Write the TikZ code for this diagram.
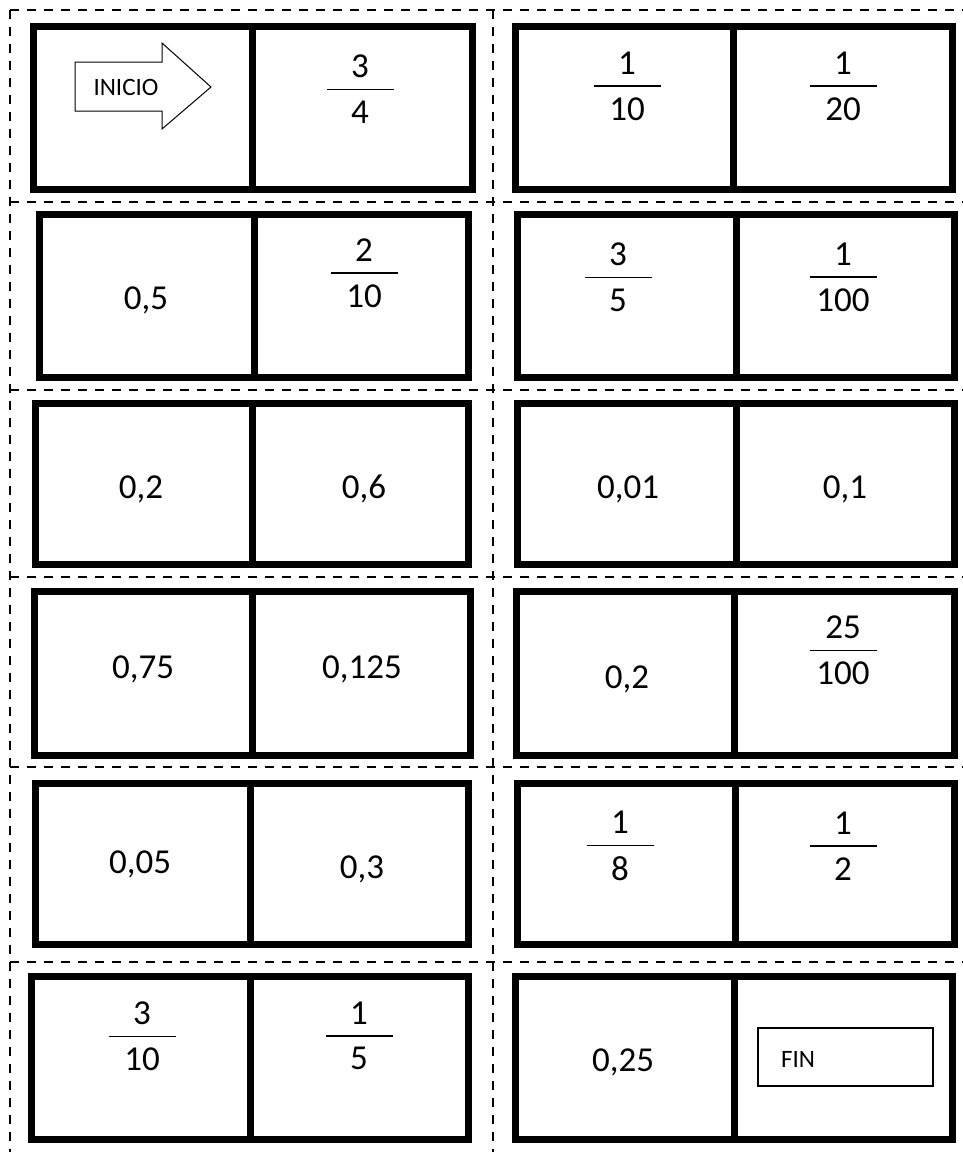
\documentclass[tikz,border=0pt]{standalone}
\usepackage{fontspec}
\setmainfont{Carlito}

% numerator over a fixed bar over denominator
\newcommand{\frc}[2]{\vbox{\hbox to 67pt{\hss#1\hss}\kern11pt\hrule height 1.5pt\kern10.5pt\hbox to 67pt{\hss#2\hss}}}

\begin{document}
\begin{tikzpicture}[
		x=1pt, y=-1pt,
		cut/.style={line width=2pt, dash pattern=on 9pt off 8pt},
		domino/.style={line width=7pt},
		val/.style={font=\fontsize{35}{40}\selectfont, inner sep=0pt, anchor=base},
		frac/.style={font=\fontsize{35}{40}\selectfont, inner sep=0pt},
		label/.style={font=\fontsize{25}{30}\selectfont, inner sep=0pt}
		]
		\useasboundingbox (0,0) rectangle (963,1152);
		
		% cutting lines
		\foreach \y in {10,202,390,577,767,962}
			\draw[cut] (10,\y) -- (963,\y);
		\foreach \x in {10,493}
			\draw[cut] (\x,10) -- (\x,1152);
		
		% dominoes: left / middle / right / top / bottom (outer edges)
		\foreach \xa/\xm/\xb/\ya/\yb in {30/252/476/23/193, 512/733/956/23/193,
				36/254/472/211/381, 514/736/958/211/381,
				32/252/472/400/568, 514/736/958/400/568,
				31/252/474/588/759, 513/734/958/588/759,
				32/250/472/780/948, 514/735/958/780/948,
				28/250/472/973/1143, 512/734/956/973/1143} {
			\draw[domino] ({\xa+3.5},{\ya+3.5}) rectangle ({\xb-3.5},{\yb-3.5});
			\draw[domino] (\xm,{\ya+3.5}) -- (\xm,{\yb-3.5});
		}
		
		% start and end marks
		\draw[line width=1pt] (75,62) -- (162,62) -- (162,43) -- (211,87) -- (162,129) -- (162,111) -- (75,111) -- cycle;
		\node (inicio) at (126,87) [label] {INICIO};
		\node (finbox) at (845.5,1057) [draw, line width=1.2pt, minimum width=175pt, minimum height=58pt] {};
		\node (fin) at (798,1059) [label] {FIN};
		
		% row 1
		\node (a2) at (360,89) [frac] {\frc{3}{4}};
		\node (a3) at (627,86) [frac] {\frc{1}{10}};
		\node (a4) at (843,86) [frac] {\frc{1}{20}};
		% row 2
		\node (b1) at (146,309) [val] {0,5};
		\node (b2) at (364,273) [frac] {\frc{2}{10}};
		\node (b3) at (618,277) [frac] {\frc{3}{5}};
		\node (b4) at (843,277) [frac] {\frc{1}{100}};
		% row 3
		\node (c1) at (141,498) [val] {0,2};
		\node (c2) at (364,498) [val] {0,6};
		\node (c3) at (628,498) [val] {0,01};
		\node (c4) at (845,498) [val] {0,1};
		% row 4
		\node (d1) at (143,678) [val] {0,75};
		\node (d2) at (362,678) [val] {0,125};
		\node (d3) at (627,688) [val] {0,2};
		\node (d4) at (843,650) [frac] {\frc{25}{100}};
		% row 5
		\node (e1) at (140,873) [val] {0,05};
		\node (e2) at (362,878) [val] {0,3};
		\node (e3) at (620,846) [frac] {\frc{1}{8}};
		\node (e4) at (843,846) [frac] {\frc{1}{2}};
		% row 6
		\node (f1) at (142,1036) [frac] {\frc{3}{10}};
		\node (f2) at (359,1036) [frac] {\frc{1}{5}};
		\node (f3) at (623,1071) [val] {0,25};
	\end{tikzpicture}
\end{document}
